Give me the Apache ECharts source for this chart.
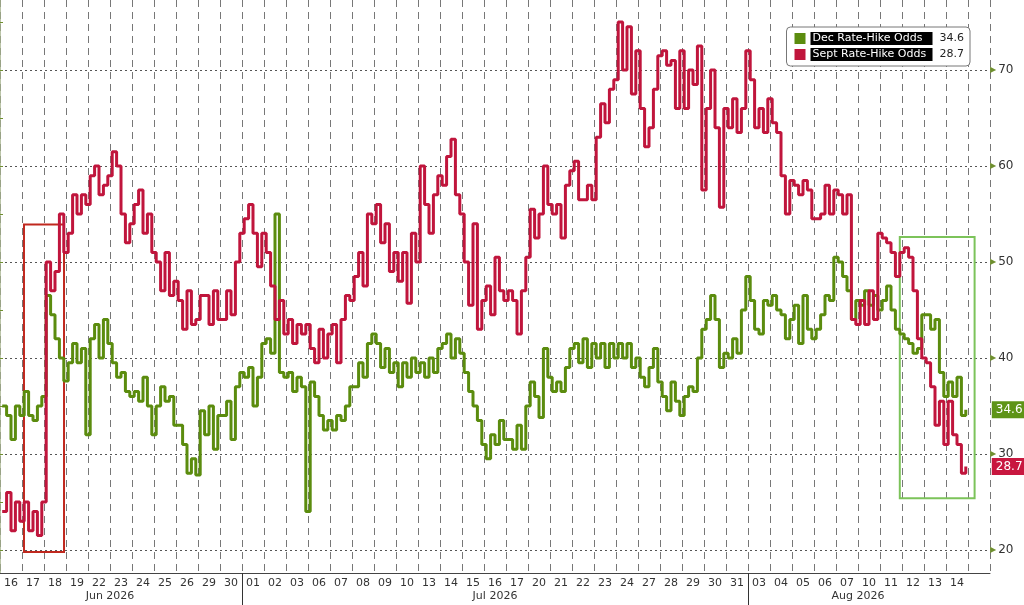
<!DOCTYPE html>
<html>
<head>
<meta charset="utf-8">
<script src="https://cdn.jsdelivr.net/npm/echarts@6/dist/echarts.min.js"></script>
<style>
html,body{margin:0;padding:0;background:#fff;}
#chart{width:1024px;height:605px;}
</style>
</head>
<body>
<div id="chart"></div>
<script>
// ---- Data ----
const dayLabels = ['16','17','18','19','22','23','24','25','26','29','30',
  '01','02','03','06','07','08','09','10','13','14','15','16','17','20','21','22','23','24','27','28','29','30','31',
  '03','04','05','06','07','10','11','12','13','14'];
const monthLabels = ['Jun 2026','Jul 2026','Aug 2026'];
const monthCenters = [5, 22.5, 39];
const monthBreaks = [11, 34];
const yTicks = [20, 30, 40, 50, 60, 70];
const yAllTicks = [20, 25, 30, 35, 40, 45, 50, 55, 60, 65, 70, 75];
const pointsPerDay = 5;

// Dec Rate-Hike Odds (5 intraday readings per trading day)
const decOdds = [
  35, 34, 31.5, 35, 34,
  36.5, 34, 33.5, 35, 36,
  46.5, 44.5, 42, 40, 37.6,
  39.5, 41.5, 39.5, 41, 32,
  42, 43.5, 40, 44, 41.5,
  39.5, 38, 38.5, 36.5, 36,
  36.5, 35.5, 38, 35, 32,
  35, 37, 35.5, 36, 33,
  33, 31, 28, 29.5, 27.8,
  34.5, 32, 35, 30.5, 34,
  34, 35.5, 31.5, 37, 38.5,
  38, 39, 35, 38, 41.5,
  42, 40.5, 55, 38.5, 38,
  38.5, 36.5, 38, 37, 24,
  37.5, 36, 34, 32.5, 33.5,
  32.5, 34, 33.5, 35, 37,
  37, 39.5, 38, 41.5, 42.5,
  41.5, 39, 41, 38.5, 39.5,
  37, 39.5, 38, 40, 38.5,
  39.5, 38, 40, 38.5, 41,
  41.5, 42.5, 40, 42, 40.5,
  38.5, 36.5, 35, 33.5, 31,
  29.5, 32, 31, 33.5, 31.5,
  31.5, 30.5, 33, 30.5, 35,
  37.5, 36, 33.8, 41, 38,
  36.5, 37.5, 36.5, 39, 41,
  41.5, 39.5, 42, 39, 41.5,
  40, 41.5, 39, 41.5, 40,
  41.5, 40, 41.5, 39, 40,
  38, 37, 39, 41, 37.5,
  36, 34.5, 37.5, 35.5, 34,
  36, 37, 36.5, 40, 43,
  44, 46.5, 44, 39, 40.5,
  40, 42, 40.5, 45, 48.5,
  46, 43, 42.5, 46, 45.5,
  46.5, 45, 44.5, 42, 44,
  45.5, 41.5, 46.5, 43, 42,
  43, 44.5, 46.5, 46, 50.5,
  50, 48.5, 47, 44, 46,
  45.5, 47, 45.5, 46.5, 45,
  46, 47.5, 45, 43, 42.5,
  42, 41.5, 40.5, 41, 44.5,
  44.5, 43, 44, 38.5, 36,
  37.5, 36, 38, 34, 34.6
];

// Sept Rate-Hike Odds
const septOdds = [
  24, 26, 22, 25, 23,
  25, 22, 24, 21.5, 25,
  50, 47, 49, 55, 51,
  53, 57, 55, 57, 56,
  59, 60, 57, 58, 59,
  61.5, 60, 55, 52, 54,
  56, 57.5, 53, 55, 51,
  50, 47, 51, 46.5, 48,
  46, 43, 47, 43.5, 44,
  46.5, 46.5, 43.5, 47, 44,
  44, 47, 44.5, 50, 53,
  54.5, 56, 53, 49.5, 53,
  51, 47.5, 44, 46, 42.5,
  44, 41.5, 43.5, 42.5, 43.5,
  41, 39.5, 43, 40, 42.5,
  43.5, 39.5, 44, 46.5, 46,
  48.5, 51, 47.5, 55, 54,
  56, 52, 54, 49, 51,
  48, 51, 45.7, 53, 50,
  60, 56, 53, 57, 59,
  58, 61, 62.8, 57, 55,
  50, 45.5, 54, 43, 46,
  47.5, 44.5, 50.5, 47, 46,
  47, 46, 42.5, 47, 50.5,
  55.5, 52.5, 55, 60, 56,
  55, 56, 52.5, 58, 59.5,
  60.5, 56.5, 56.5, 58, 56.5,
  63, 66.5, 64.5, 68, 69,
  75, 70, 74.5, 67.5, 72,
  66, 62, 64, 68, 71.5,
  72, 70.5, 71, 66, 72,
  66, 70, 68.5, 72.5, 57.5,
  66, 70, 64, 55.7, 66,
  64, 67, 63.5, 66, 72,
  69, 64, 66, 63.5, 67,
  64.5, 63.5, 59, 55, 58.5,
  58, 57, 58.5, 57.5, 54.5,
  54.5, 55, 58, 55, 57.5,
  57, 55, 57, 44, 43.5,
  46, 43.5, 47, 44, 53,
  52.5, 52, 51, 48.5, 51,
  51.5, 50.5, 47, 42, 40,
  39.5, 37, 33, 35.5, 31,
  35.5, 32, 31, 28, 28.7
];

// Highlight boxes (in axis units: trading-day index, odds)
const redBox = { x: [1.09, 2.91], y: [19.8, 53.9] };
const greenBox = { x: [40.9, 44.3], y: [25.4, 52.6] };

const seriesNames = ['Dec Rate-Hike Odds', 'Sept Rate-Hike Odds'];
const colors = ['#5b8c0e', '#c0153c'];

function toPoints(arr) {
  return arr.map((v, i) => [Math.floor(i / pointsPerDay) + ((i % pointsPerDay) + 0.5) / pointsPerDay, v]);
}
const lastVals = [decOdds[decOdds.length - 1], septOdds[septOdds.length - 1]];

const font = 'DejaVu Sans';
const chart = echarts.init(document.getElementById('chart'));
chart.setOption({
  backgroundColor: '#fff',
  animation: false,
  grid: { left: 0, right: 34, top: 0, bottom: 32 },
  legend: {
    orient: 'vertical',
    right: 54, top: 27,
    backgroundColor: '#fff',
    borderColor: '#777', borderWidth: 1, borderRadius: 4,
    padding: [5, 6, 5, 8],
    itemGap: 3, itemWidth: 11, itemHeight: 11,
    icon: 'rect',
    data: seriesNames,
    formatter: function (name) {
      const v = lastVals[seriesNames.indexOf(name)].toFixed(1);
      return '{n|' + name + '}{v|' + v + '}';
    },
    textStyle: {
      fontFamily: font, fontSize: 11,
      rich: {
        n: { backgroundColor: '#000', color: '#fff', width: 118, padding: [1, 2], fontFamily: font, fontSize: 11 },
        v: { color: '#222', fontFamily: font, fontSize: 11, padding: [0, 0, 0, 7] }
      }
    }
  },
  xAxis: [
    {
      type: 'category', data: dayLabels.concat(['']), boundaryGap: true, position: 'bottom',
      axisLine: { lineStyle: { color: '#444' } },
      axisTick: { inside: true, length: 5, interval: 0, lineStyle: { color: '#555' } },
      axisLabel: { interval: 0, margin: 5, color: '#333', fontSize: 11, fontFamily: font },
      splitLine: { show: true, interval: 0, lineStyle: { color: '#777', type: [7, 5], width: 1 } }
    },
    { type: 'value', min: 0, max: 45, show: false },
    {
      type: 'value', min: 0, max: 45, position: 'bottom',
      axisLine: { show: false },
      axisTick: { show: true, customValues: monthBreaks, length: 33, inside: false, lineStyle: { color: '#333', width: 1 } },
      axisLabel: {
        customValues: monthCenters, margin: 18, color: '#333', fontSize: 11, fontFamily: font,
        formatter: function (v) { return monthLabels[monthCenters.indexOf(v)] || ''; }
      },
      splitLine: { show: false }
    }
  ],
  yAxis: [
    {
      type: 'value', position: 'right', min: 17.6, max: 77.3,
      axisLine: { show: true, lineStyle: { color: '#a3b08a', width: 1.5 } },
      axisTick: { show: true, customValues: yAllTicks, length: 3, lineStyle: { color: '#6f8f2f' } },
      axisLabel: {
        customValues: yTicks, margin: 0,
        formatter: function (v) { return '{t|▶}{v|' + v + '}'; },
        rich: {
          t: { color: '#6f8f2f', fontSize: 8, fontFamily: font },
          v: { color: '#333', fontSize: 12, fontFamily: font, padding: [0, 0, 0, 2] }
        }
      },
      splitLine: { show: false }
    },
    {
      type: 'value', position: 'left', min: 17.6, max: 77.3,
      axisLine: { show: false },
      axisTick: { show: false, customValues: yTicks },
      axisLabel: { show: false, customValues: yTicks },
      splitLine: { show: true, lineStyle: { color: '#555', type: [2, 3], width: 1 } }
    }
  ],
  series: [
    {
      name: seriesNames[0], type: 'line', xAxisIndex: 1, yAxisIndex: 0,
      data: toPoints(decOdds), step: 'end', symbol: 'none',
      color: colors[0],
      lineStyle: { color: colors[0], width: 3 },
      endLabel: {
        show: true, distance: 0, offset: [26, 0],
        formatter: function (p) { return p.value[1].toFixed(1); },
        backgroundColor: '#5e9417', color: '#fff', padding: [3, 4, 2, 4],
        fontFamily: font, fontSize: 12
      },
      markArea: {
        silent: true,
        itemStyle: { color: 'rgba(0,0,0,0)', borderColor: '#7cc35a', borderWidth: 2 },
        data: [[{ xAxis: greenBox.x[0], yAxis: greenBox.y[0] }, { xAxis: greenBox.x[1], yAxis: greenBox.y[1] }]]
      }
    },
    {
      name: seriesNames[1], type: 'line', xAxisIndex: 1, yAxisIndex: 0,
      data: toPoints(septOdds), step: 'end', symbol: 'none',
      color: colors[1],
      lineStyle: { color: colors[1], width: 3 },
      endLabel: {
        show: true, distance: 0, offset: [26, 0],
        formatter: function (p) { return p.value[1].toFixed(1); },
        backgroundColor: '#c8173f', color: '#fff', padding: [3, 4, 2, 4],
        fontFamily: font, fontSize: 12
      },
      markArea: {
        silent: true,
        itemStyle: { color: 'rgba(0,0,0,0)', borderColor: '#c0281e', borderWidth: 2 },
        data: [[{ xAxis: redBox.x[0], yAxis: redBox.y[0] }, { xAxis: redBox.x[1], yAxis: redBox.y[1] }]]
      }
    }
  ]
});
</script>
</body>
</html>
